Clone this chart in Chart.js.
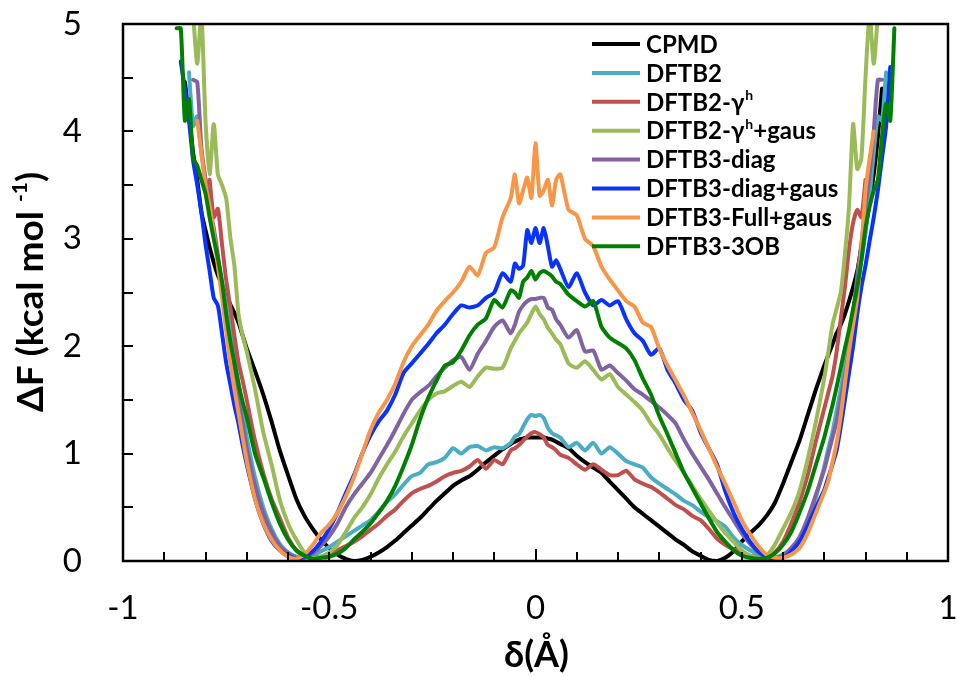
<!DOCTYPE html>
<html>
<head>
<meta charset="utf-8">
<script src="https://cdn.jsdelivr.net/npm/chart.js@4.4.1/dist/chart.umd.min.js"></script>
<style>
    html, body { margin: 0; padding: 0; background: #fff; }
</style>
</head>
<body>
<canvas id="pmfChart" width="959" height="676"></canvas>
<script>
// reaction coordinate δ (Å): walls at 0.01, middle at 0.02, centre at 0.01
const delta = [
    -0.87, -0.86, -0.85, -0.84, -0.83, -0.82, -0.81, -0.80, -0.79, -0.78, -0.77, -0.76, -0.75, -0.74, -0.73, -0.72, -0.71, -0.70,
    -0.68, -0.66, -0.64, -0.62, -0.60, -0.58, -0.56, -0.54, -0.52, -0.50, -0.48, -0.46, -0.44, -0.42, -0.40, -0.38, -0.36,
    -0.34, -0.32, -0.30, -0.28, -0.26, -0.24, -0.22, -0.20, -0.18, -0.16, -0.14, -0.12, -0.10, -0.08,
    -0.06, -0.05, -0.04, -0.03, -0.02, -0.01, 0, 0.01, 0.02, 0.03, 0.04, 0.05, 0.06,
    0.08, 0.10, 0.12, 0.14, 0.16, 0.18, 0.20, 0.22, 0.24, 0.26, 0.28, 0.30, 0.32, 0.34, 0.36, 0.38,
    0.40, 0.42, 0.44, 0.46, 0.48, 0.50, 0.52, 0.54, 0.56, 0.58, 0.60, 0.62, 0.64, 0.66, 0.68,
    0.70, 0.71, 0.72, 0.73, 0.74, 0.75, 0.76, 0.77, 0.78, 0.79, 0.80, 0.81, 0.82, 0.83, 0.84, 0.85, 0.86, 0.87
];

// ΔF (kcal/mol) per method, same order as delta
const cpmd = [
    null, null, 4.46, 4.15, 3.8, 3.55, 3.25, 3.08, 2.92, 2.78, 2.66, 2.57, 2.47, 2.39, 2.31, 2.22, 2.1, 1.98,
    1.77, 1.55, 1.3, 1.03, 0.8, 0.58, 0.42, 0.3, 0.2, 0.12, 0.06, 0.02, 0.0, 0.01, 0.04, 0.08, 0.13,
    0.19, 0.26, 0.33, 0.4, 0.48, 0.56, 0.63, 0.7, 0.75, 0.79, 0.85, 0.92, 0.98, 1.04,
    1.09, 1.11, 1.13, 1.14, 1.15, 1.15, 1.15, 1.15, 1.15, 1.14, 1.13, 1.11, 1.09,
    1.05, 0.98, 0.92, 0.87, 0.82, 0.74, 0.66, 0.58, 0.5, 0.44, 0.38, 0.32, 0.26, 0.2, 0.15, 0.09,
    0.05, 0.01, 0.0, 0.03, 0.09, 0.18, 0.26, 0.33, 0.42, 0.54, 0.72, 0.92, 1.12, 1.36, 1.6,
    1.82, 1.92, 2.02, 2.12, 2.2, 2.3, 2.42, 2.55, 2.7, 2.92, 3.1, 3.35, 3.6, 3.95, 4.4, null, null, null
];
const dftb2 = [
    null, null, null, 4.55, 4.05, 4.14, 3.8, 3.55, 3.3, 3.05, 2.8, 2.6, 2.4, 2.15, 1.9, 1.65, 1.4, 1.15,
    0.78, 0.5, 0.3, 0.16, 0.08, 0.04, 0.03, 0.05, 0.09, 0.13, 0.18, 0.23, 0.28, 0.33, 0.38, 0.46, 0.55,
    0.62, 0.71, 0.79, 0.82, 0.9, 0.92, 0.96, 1.05, 1.0, 1.06, 1.07, 1.03, 1.06, 1.05,
    1.1, 1.16, 1.18, 1.25, 1.32, 1.36, 1.35, 1.36, 1.33, 1.24, 1.19, 1.17, 1.15,
    1.06, 1.1, 1.03, 1.1, 1.0, 1.06, 1.0, 0.93, 0.9, 0.87, 0.78, 0.72, 0.67, 0.62, 0.56, 0.52,
    0.46, 0.41, 0.37, 0.32, 0.22, 0.15, 0.1, 0.06, 0.03, 0.03, 0.06, 0.12, 0.22, 0.38, 0.6,
    0.88, 1.05, 1.2, 1.4, 1.6, 1.82, 2.05, 2.3, 2.55, 2.8, 3.05, 3.4, 3.8, 4.14, 4.1, 4.55, null, null
];
const dftb2Gh = [
    null, null, null, null, null, null, null, null, 3.55, 3.2, 3.28, 2.95, 2.62, 2.37, 2.1, 1.85, 1.68, 1.5,
    1.12, 0.82, 0.58, 0.4, 0.22, 0.1, 0.04, 0.03, 0.04, 0.07, 0.1, 0.14, 0.18, 0.23, 0.29, 0.35, 0.42,
    0.48, 0.56, 0.63, 0.67, 0.7, 0.74, 0.79, 0.82, 0.84, 0.88, 0.94, 0.86, 0.94, 0.9,
    1.03, 1.05, 1.08, 1.12, 1.16, 1.19, 1.2, 1.18, 1.15, 1.08, 1.06, 1.03, 0.99,
    0.96, 0.9, 0.85, 0.9, 0.85, 0.8, 0.8, 0.84, 0.76, 0.72, 0.69, 0.64, 0.58, 0.52, 0.48, 0.42,
    0.38, 0.3, 0.21, 0.15, 0.11, 0.08, 0.05, 0.03, 0.04, 0.08, 0.18, 0.35, 0.55, 0.8, 1.12,
    1.42, 1.57, 1.72, 1.95, 2.25, 2.55, 2.9, 3.15, 3.27, 3.2, 3.55, null, null, null, null, null, null, null
];
const dftb2GhGaus = [
    null, null, null, 5.8, 5.1, 4.63, 5.1, 4.1, 3.6, 4.07, 3.6, 3.5, 3.38, 3.02, 2.75, 2.3, 2.1, 1.95,
    1.6, 1.2, 0.9, 0.57, 0.35, 0.2, 0.08, 0.03, 0.04, 0.08, 0.15, 0.27, 0.4, 0.5, 0.62, 0.77, 0.9,
    1.02, 1.16, 1.28, 1.4, 1.5, 1.56, 1.58, 1.63, 1.67, 1.62, 1.72, 1.8, 1.79, 1.8,
    1.98, 2.05, 2.12, 2.17, 2.22, 2.3, 2.37, 2.3, 2.25, 2.17, 2.12, 2.06, 2.02,
    1.84, 1.8, 1.86, 1.78, 1.69, 1.74, 1.62, 1.55, 1.48, 1.4, 1.28, 1.18, 1.05, 0.93, 0.82, 0.7,
    0.58, 0.47, 0.36, 0.26, 0.18, 0.1, 0.05, 0.03, 0.05, 0.15, 0.3, 0.45, 0.65, 0.95, 1.3,
    1.7, 1.95, 2.2, 2.35, 2.5, 2.85, 3.3, 4.07, 3.65, 3.75, 4.5, 5.1, 4.63, 5.1, 5.8, null, null, null
];
const dftb3Diag = [
    null, null, null, null, 4.48, 4.46, 3.85, 3.55, 3.3, 3.1, 2.85, 2.55, 2.28, 2.0, 1.75, 1.5, 1.28, 1.05,
    0.7, 0.45, 0.27, 0.14, 0.07, 0.03, 0.03, 0.07, 0.14, 0.23, 0.35, 0.5, 0.62, 0.72, 0.82, 0.95, 1.08,
    1.22, 1.37, 1.5, 1.57, 1.63, 1.72, 1.8, 1.87, 1.9, 1.78, 1.93, 2.05, 2.18, 2.24,
    2.12, 2.2, 2.32, 2.38, 2.42, 2.44, 2.44, 2.45, 2.45, 2.36, 2.34, 2.25, 2.2,
    2.08, 2.15, 1.95, 1.96, 1.78, 1.82, 1.75, 1.68, 1.6, 1.55, 1.49, 1.43, 1.36, 1.28, 1.13, 1.0,
    0.88, 0.76, 0.63, 0.5, 0.38, 0.26, 0.16, 0.08, 0.04, 0.03, 0.05, 0.12, 0.22, 0.4, 0.62,
    0.85, 1.0, 1.15, 1.3, 1.5, 1.72, 1.95, 2.3, 2.65, 2.95, 3.3, 3.6, 4.0, 4.48, 4.48, null, null, null
];
const dftb3DiagGaus = [
    null, 4.65, 4.4, 4.1, 3.73, 3.5, 3.25, 2.95, 2.7, 2.45, 2.38, 2.12, 1.85, 1.65, 1.45, 1.28, 1.08, 0.9,
    0.58, 0.35, 0.19, 0.1, 0.05, 0.02, 0.04, 0.09, 0.18, 0.3, 0.45, 0.63, 0.8, 1.0, 1.17, 1.3, 1.4,
    1.55, 1.75, 1.84, 1.93, 2.02, 2.12, 2.2, 2.3, 2.38, 2.36, 2.38, 2.45, 2.5, 2.68,
    2.6, 2.77, 2.72, 2.75, 3.08, 2.96, 3.1, 2.96, 3.1, 2.93, 2.74, 2.8, 2.72,
    2.55, 2.68, 2.5, 2.38, 2.43, 2.38, 2.42, 2.25, 2.12, 2.05, 1.92, 1.98, 1.78, 1.65, 1.5, 1.4,
    1.2, 1.05, 0.9, 0.65, 0.45, 0.3, 0.18, 0.09, 0.04, 0.02, 0.03, 0.09, 0.18, 0.33, 0.5,
    0.66, 0.78, 0.9, 1.03, 1.25, 1.5, 1.75, 2.0, 2.3, 2.55, 2.75, 2.98, 3.2, 3.45, 3.75, 4.05, 4.6, null
];
const dftb3FullGaus = [
    null, null, null, null, null, 4.1, 3.8, 3.5, 3.3, 3.05, 2.75, 2.45, 2.15, 1.85, 1.6, 1.38, 1.15, 0.93,
    0.58, 0.35, 0.2, 0.1, 0.04, 0.02, 0.06, 0.15, 0.26, 0.34, 0.45, 0.6, 0.78, 1.0, 1.22, 1.38, 1.5,
    1.65, 1.85, 2.0, 2.1, 2.2, 2.33, 2.42, 2.5, 2.6, 2.74, 2.66, 2.87, 2.92, 3.2,
    3.38, 3.6, 3.33, 3.45, 3.57, 3.38, 3.89, 3.4, 3.45, 3.55, 3.31, 3.55, 3.6,
    3.27, 3.22, 3.0, 2.93, 2.74, 2.62, 2.52, 2.42, 2.37, 2.22, 2.18, 1.98, 1.82, 1.68, 1.54, 1.38,
    1.22, 1.05, 0.88, 0.72, 0.55, 0.38, 0.25, 0.14, 0.06, 0.03, 0.03, 0.06, 0.12, 0.26, 0.45,
    0.64, 0.75, 0.92, 1.1, 1.35, 1.65, 1.95, 2.2, 2.45, 2.9, 3.45, 3.75, 4.0, null, null, null, null, null
];
const dftb3Ob = [
    4.96, 4.96, 4.1, 4.3, 3.75, 3.68, 3.55, 3.42, 3.2, 3.0, 2.82, 2.6, 2.3, 2.05, 1.85, 1.65, 1.48, 1.34,
    1.0, 0.78, 0.55, 0.35, 0.2, 0.1, 0.05, 0.02, 0.03, 0.04, 0.07, 0.12, 0.2, 0.27, 0.35, 0.45, 0.56,
    0.7, 0.88, 1.08, 1.32, 1.52, 1.68, 1.82, 1.85, 1.96, 2.1, 2.2, 2.26, 2.43, 2.36,
    2.52, 2.5, 2.45, 2.6, 2.64, 2.7, 2.62, 2.68, 2.7, 2.68, 2.65, 2.6, 2.58,
    2.48, 2.42, 2.37, 2.42, 2.18, 2.08, 2.03, 1.98, 1.87, 1.7, 1.55, 1.35, 1.18, 1.0, 0.82, 0.68,
    0.54, 0.4, 0.27, 0.18, 0.1, 0.05, 0.03, 0.02, 0.03, 0.07, 0.15, 0.27, 0.45, 0.65, 0.9,
    1.15, 1.3, 1.45, 1.62, 1.8, 1.98, 2.15, 2.35, 2.55, 2.8, 3.1, 3.3, 3.45, 3.55, 3.95, 4.26, 4.1, 4.96
];

const seriesLabels = ['CPMD', 'DFTB2', 'DFTB2-γʰ', 'DFTB2-γʰ+gaus', 'DFTB3-diag', 'DFTB3-diag+gaus', 'DFTB3-Full+gaus', 'DFTB3-3OB'];
const seriesColors = ['#000000', '#4BACC6', '#C0504D', '#9BBB59', '#8064A2', '#0A32FF', '#F79646', '#008000'];
const seriesValues = [cpmd, dftb2, dftb2Gh, dftb2GhGaus, dftb3Diag, dftb3DiagGaus, dftb3FullGaus, dftb3Ob];

const xMinorTicks = [-0.9, -0.8, -0.7, -0.6, -0.5, -0.4, -0.3, -0.2, -0.1, 0, 0.1, 0.2, 0.3, 0.4, 0.5, 0.6, 0.7, 0.8, 0.9];
const yMinorTicks = [0.5, 1, 1.5, 2, 2.5, 3, 3.5, 4, 4.5];
const xTitle = 'δ(Å)';
const yTitleParts = ['ΔF (kcal mol ', '-1', ')'];

function toPoints(values) {
    const pts = [];
    values.forEach((v, i) => { if (v !== null) pts.push({ x: delta[i], y: v }); });
    return pts;
}

// draws text where 'ʰ' is shown as a small raised h
function drawRich(ctx, text, x, y, size) {
    const parts = text.split('ʰ');
    parts.forEach((p, i) => {
        ctx.font = `bold ${size}px Lato`;
        ctx.fillText(p, x, y);
        x += ctx.measureText(p).width;
        if (i < parts.length - 1) {
            ctx.font = `bold ${Math.round(size * 0.6)}px Lato`;
            ctx.fillText('h', x + 1, y - size * 0.3);
            x += ctx.measureText('h').width + 1;
        }
    });
}

// keep the plot box where the reference has it
function noScalePadding(s) {
    s.paddingTop = 0;
    s.paddingBottom = 0;
    s.paddingLeft = 0;
    s.paddingRight = 0;
}

const overlay = {
    id: 'overlay',
    afterDraw(chart) {
        const { ctx, chartArea: a, scales } = chart;
        ctx.save();
        ctx.strokeStyle = '#000';
        ctx.lineWidth = 2.5;
        ctx.strokeRect(a.left, a.top, a.right - a.left, a.bottom - a.top);

        // inward ticks
        ctx.lineWidth = 2;
        ctx.beginPath();
        xMinorTicks.forEach(v => {
            const px = Math.round(scales.x.getPixelForValue(v));
            ctx.moveTo(px, a.bottom);
            ctx.lineTo(px, a.bottom - (v === 0 ? 12 : 9));
        });
        yMinorTicks.forEach(v => {
            const py = Math.round(scales.y.getPixelForValue(v));
            ctx.moveTo(a.left, py);
            ctx.lineTo(a.left + 10, py);
        });
        ctx.stroke();

        // legend
        ctx.textBaseline = 'middle';
        ctx.textAlign = 'left';
        ctx.fillStyle = '#000';
        chart.data.datasets.forEach((ds, i) => {
            const ly = a.top + 20 + i * 28.9;
            ctx.strokeStyle = ds.borderColor;
            ctx.lineWidth = 4;
            ctx.beginPath();
            ctx.moveTo(a.left + 469, ly);
            ctx.lineTo(a.left + 517, ly);
            ctx.stroke();
            drawRich(ctx, ds.label, a.left + 523, ly + 1, 24);
        });

        // axis titles
        ctx.textAlign = 'center';
        ctx.font = 'bold 36px Lato';
        ctx.fillText(xTitle, (a.left + a.right) / 2 + 1, 655);

        ctx.translate(31, 292);
        ctx.rotate(-Math.PI / 2);
        const big = 'bold 37px Lato', small = 'bold 21px Lato';
        ctx.font = big;
        const w0 = ctx.measureText(yTitleParts[0]).width;
        const w2 = ctx.measureText(yTitleParts[2]).width;
        ctx.font = small;
        const w1 = ctx.measureText(yTitleParts[1]).width;
        let tx = -(w0 + w1 + w2) / 2;
        ctx.textAlign = 'left';
        ctx.font = big;
        ctx.fillText(yTitleParts[0], tx, 0);
        tx += w0;
        ctx.font = small;
        ctx.fillText(yTitleParts[1], tx, -11);
        tx += w1;
        ctx.font = big;
        ctx.fillText(yTitleParts[2], tx, 0);
        ctx.restore();
    }
};

Chart.defaults.font.family = 'Lato';
Chart.defaults.color = '#000';

new Chart(document.getElementById('pmfChart'), {
    type: 'line',
    data: {
        datasets: seriesValues.map((vals, i) => ({
            label: seriesLabels[i],
            data: toPoints(vals),
            borderColor: seriesColors[i],
            backgroundColor: seriesColors[i],
            borderWidth: 4,
            borderJoinStyle: 'round',
            borderCapStyle: 'round',
            pointRadius: 0,
            tension: 0.2,
            fill: false,
            clip: 0,
            order: seriesValues.length - i
        }))
    },
    options: {
        responsive: false,
        animation: false,
        devicePixelRatio: 1,
        layout: { padding: { top: 24, right: 11, left: 0, bottom: 0 } },
        plugins: { legend: { display: false }, tooltip: { enabled: false } },
        scales: {
            x: {
                type: 'linear',
                min: -1,
                max: 1,
                afterFit: s => { s.height = 115; noScalePadding(s); },
                grid: { display: false, drawTicks: false },
                border: { display: false },
                ticks: {
                    stepSize: 0.5,
                    padding: 28,
                    maxRotation: 0,
                    font: { size: 33 },
                    callback: v => String(Number(v.toFixed(2)))
                }
            },
            y: {
                min: 0,
                max: 5,
                afterFit: s => { s.width = 123; noScalePadding(s); },
                grid: { display: false, drawTicks: false },
                border: { display: false },
                ticks: {
                    stepSize: 1,
                    padding: 41,
                    font: { size: 33 },
                    callback: v => String(v)
                }
            }
        }
    },
    plugins: [overlay]
});
</script>
</body>
</html>
